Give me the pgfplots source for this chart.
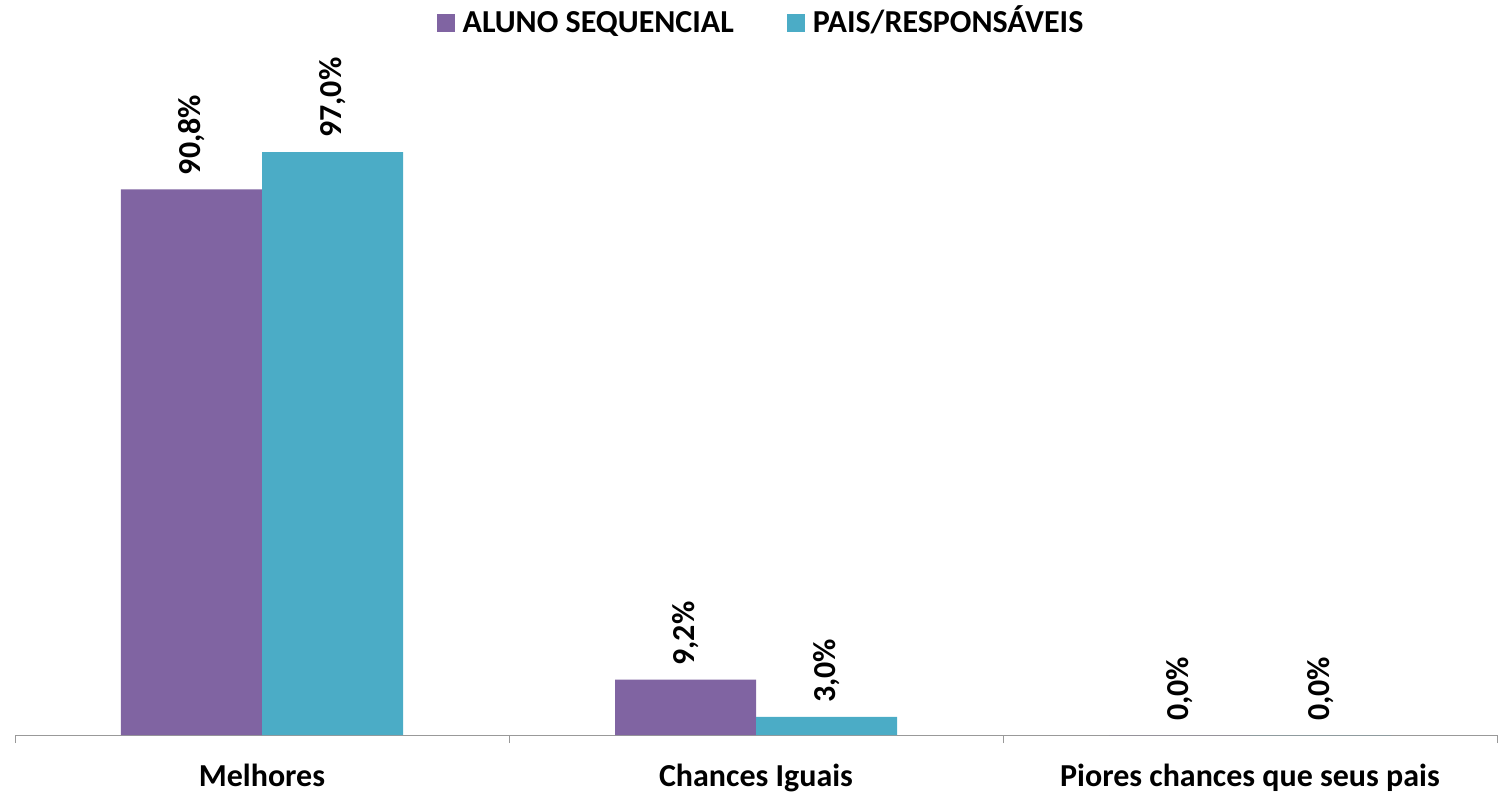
\documentclass[border=0pt]{standalone}
\usepackage{fontspec}
\setmainfont{Carlito}
\usepackage{pgfplots}
\pgfplotsset{compat=1.18}
\definecolor{cA}{HTML}{8064A2}
\definecolor{cB}{HTML}{4BACC6}
\begin{document}
\fontsize{32}{38}\selectfont\bfseries
\begin{tikzpicture}
\begin{axis}[
 scale only axis, width=1482pt, height=601pt,
 xmin=-0.5, xmax=2.5, ymin=0, ymax=100,
 axis x line=bottom, axis y line=none,
 x axis line style={-, draw=gray!80},
 xtick={0,1,2}, xticklabels={Melhores, Chances Iguais, Piores chances que seus pais},
 major tick length=0pt,
 extra x ticks={-0.5,0.5,1.5,2.5}, extra x tick labels={},
 extra x tick style={major tick length=8pt, tick align=outside, tick style={draw=gray!80}},
 xticklabel style={font=\fontsize{32}{38}\selectfont\bfseries, yshift=-18pt},
 ybar, bar width=141pt,
 nodes near coords={\pgfmathprintnumber[fixed,fixed zerofill,precision=1,use comma,assume math mode=true]{\pgfplotspointmeta}\%},
 every node near coord/.append style={rotate=90, anchor=west, font=\fontsize{32}{38}\selectfont\bfseries, text=black, inner sep=14pt},
 legend columns=2,
 legend style={at={(0.5,1)}, anchor=center, yshift=110pt, xshift=5pt, draw=none, fill=none, font=\fontsize{32}{38}\selectfont\bfseries,
   nodes={text height=24pt, text depth=6pt},
   /tikz/every even column/.append style={column sep=51pt},
   /tikz/every odd column/.append style={column sep=6pt}},
 legend image code/.code={\fill[#1] (0pt,-8pt) rectangle (18pt,10pt);},
 clip=false,
]
\addplot[fill=cA, draw=none, bar shift=-70.5pt] coordinates {(0,90.8) (1,9.2) (2,0)};
\addplot[fill=cB, draw=none, bar shift=70.5pt] coordinates {(0,97.0) (1,3.0) (2,0)};
\legend{ALUNO SEQUENCIAL, PAIS/RESPONSÁVEIS}
\end{axis}
\pgfresetboundingbox
\path ([shift={(-15pt,-57pt)}]current axis.south west) rectangle ([shift={(6pt,134pt)}]current axis.north east);
\end{tikzpicture}
\end{document}
